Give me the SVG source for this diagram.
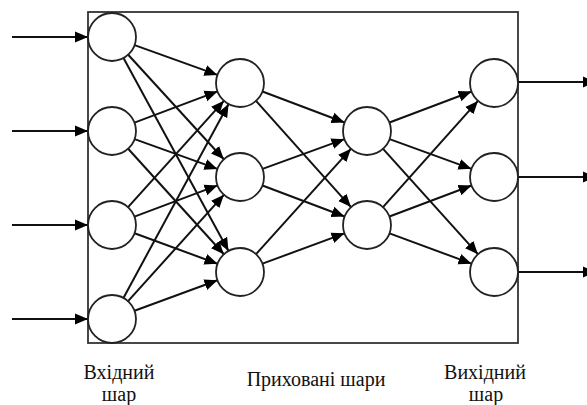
<svg xmlns="http://www.w3.org/2000/svg" width="587" height="405" viewBox="0 0 587 405">
<style>
.node{fill:#fff;stroke:#222;stroke-width:1.8}
.edge{stroke:#111;stroke-width:2;fill:none;marker-end:url(#ah)}
.frame{fill:none;stroke:#333;stroke-width:1.8}
</style>
<defs>
<marker id="ah" markerUnits="userSpaceOnUse" markerWidth="14" markerHeight="12" refX="13" refY="6" orient="auto">
<path d="M0,0.5 L13,6 L0,11.5 z" fill="#000"/>
</marker>
</defs>
<rect class="frame" x="88" y="12" width="430" height="331"/>
<g id="connectors">
<line class="edge" x1="12" y1="37" x2="88" y2="37"/>
<line class="edge" x1="12" y1="131" x2="88" y2="131"/>
<line class="edge" x1="12" y1="225" x2="88" y2="225"/>
<line class="edge" x1="12" y1="319" x2="88" y2="319"/>
<line class="edge" x1="134.59" y1="45.12" x2="217.41" y2="74.88"/>
<line class="edge" x1="128.19" y1="54.71" x2="223.81" y2="159.29"/>
<line class="edge" x1="123.48" y1="58.08" x2="228.52" y2="250.92"/>
<line class="edge" x1="134.47" y1="122.57" x2="217.53" y2="91.43"/>
<line class="edge" x1="134.59" y1="139.12" x2="217.41" y2="168.88"/>
<line class="edge" x1="128.13" y1="148.77" x2="223.87" y2="254.23"/>
<line class="edge" x1="128.07" y1="207.17" x2="223.93" y2="100.83"/>
<line class="edge" x1="134.47" y1="216.57" x2="217.53" y2="185.43"/>
<line class="edge" x1="134.53" y1="233.27" x2="217.47" y2="263.73"/>
<line class="edge" x1="123.44" y1="297.90" x2="228.56" y2="104.10"/>
<line class="edge" x1="128.07" y1="301.17" x2="223.93" y2="194.83"/>
<line class="edge" x1="134.53" y1="310.73" x2="217.47" y2="280.27"/>
<line class="edge" x1="262.45" y1="91.49" x2="344.55" y2="122.51"/>
<line class="edge" x1="256.00" y1="100.89" x2="351.00" y2="207.11"/>
<line class="edge" x1="262.57" y1="168.83" x2="344.43" y2="139.17"/>
<line class="edge" x1="262.45" y1="185.49" x2="344.55" y2="216.51"/>
<line class="edge" x1="256.06" y1="254.17" x2="350.94" y2="148.83"/>
<line class="edge" x1="262.51" y1="263.67" x2="344.49" y2="233.33"/>
<line class="edge" x1="389.45" y1="122.51" x2="471.55" y2="91.49"/>
<line class="edge" x1="389.57" y1="139.17" x2="471.43" y2="168.83"/>
<line class="edge" x1="383.06" y1="148.83" x2="477.94" y2="254.17"/>
<line class="edge" x1="383.00" y1="207.11" x2="478.00" y2="100.89"/>
<line class="edge" x1="389.45" y1="216.51" x2="471.55" y2="185.49"/>
<line class="edge" x1="389.51" y1="233.33" x2="471.49" y2="263.67"/>
<line class="edge" x1="518" y1="82" x2="596" y2="82"/>
<line class="edge" x1="518" y1="177" x2="596" y2="177"/>
<line class="edge" x1="518" y1="272" x2="596" y2="272"/>
</g>
<g id="in1"><circle class="node" cx="112" cy="37" r="24"/></g>
<g id="in2"><circle class="node" cx="112" cy="131" r="24"/></g>
<g id="in3"><circle class="node" cx="112" cy="225" r="24"/></g>
<g id="in4"><circle class="node" cx="112" cy="319" r="24"/></g>
<g id="h1a"><circle class="node" cx="240" cy="83" r="24"/></g>
<g id="h1b"><circle class="node" cx="240" cy="177" r="24"/></g>
<g id="h1c"><circle class="node" cx="240" cy="272" r="24"/></g>
<g id="h2a"><circle class="node" cx="367" cy="131" r="24"/></g>
<g id="h2b"><circle class="node" cx="367" cy="225" r="24"/></g>
<g id="outa"><circle class="node" cx="494" cy="83" r="24"/></g>
<g id="outb"><circle class="node" cx="494" cy="177" r="24"/></g>
<g id="outc"><circle class="node" cx="494" cy="272" r="24"/></g>
<g id="labels" font-family="Liberation Serif, DejaVu Serif, serif" font-size="20" fill="#111" text-anchor="middle">
<text x="119" y="379">Вхідний</text>
<text x="119" y="401">шар</text>
<text x="316" y="386">Приховані шари</text>
<text x="485" y="379">Вихідний</text>
<text x="486" y="401">шар</text>
</g>
</svg>
